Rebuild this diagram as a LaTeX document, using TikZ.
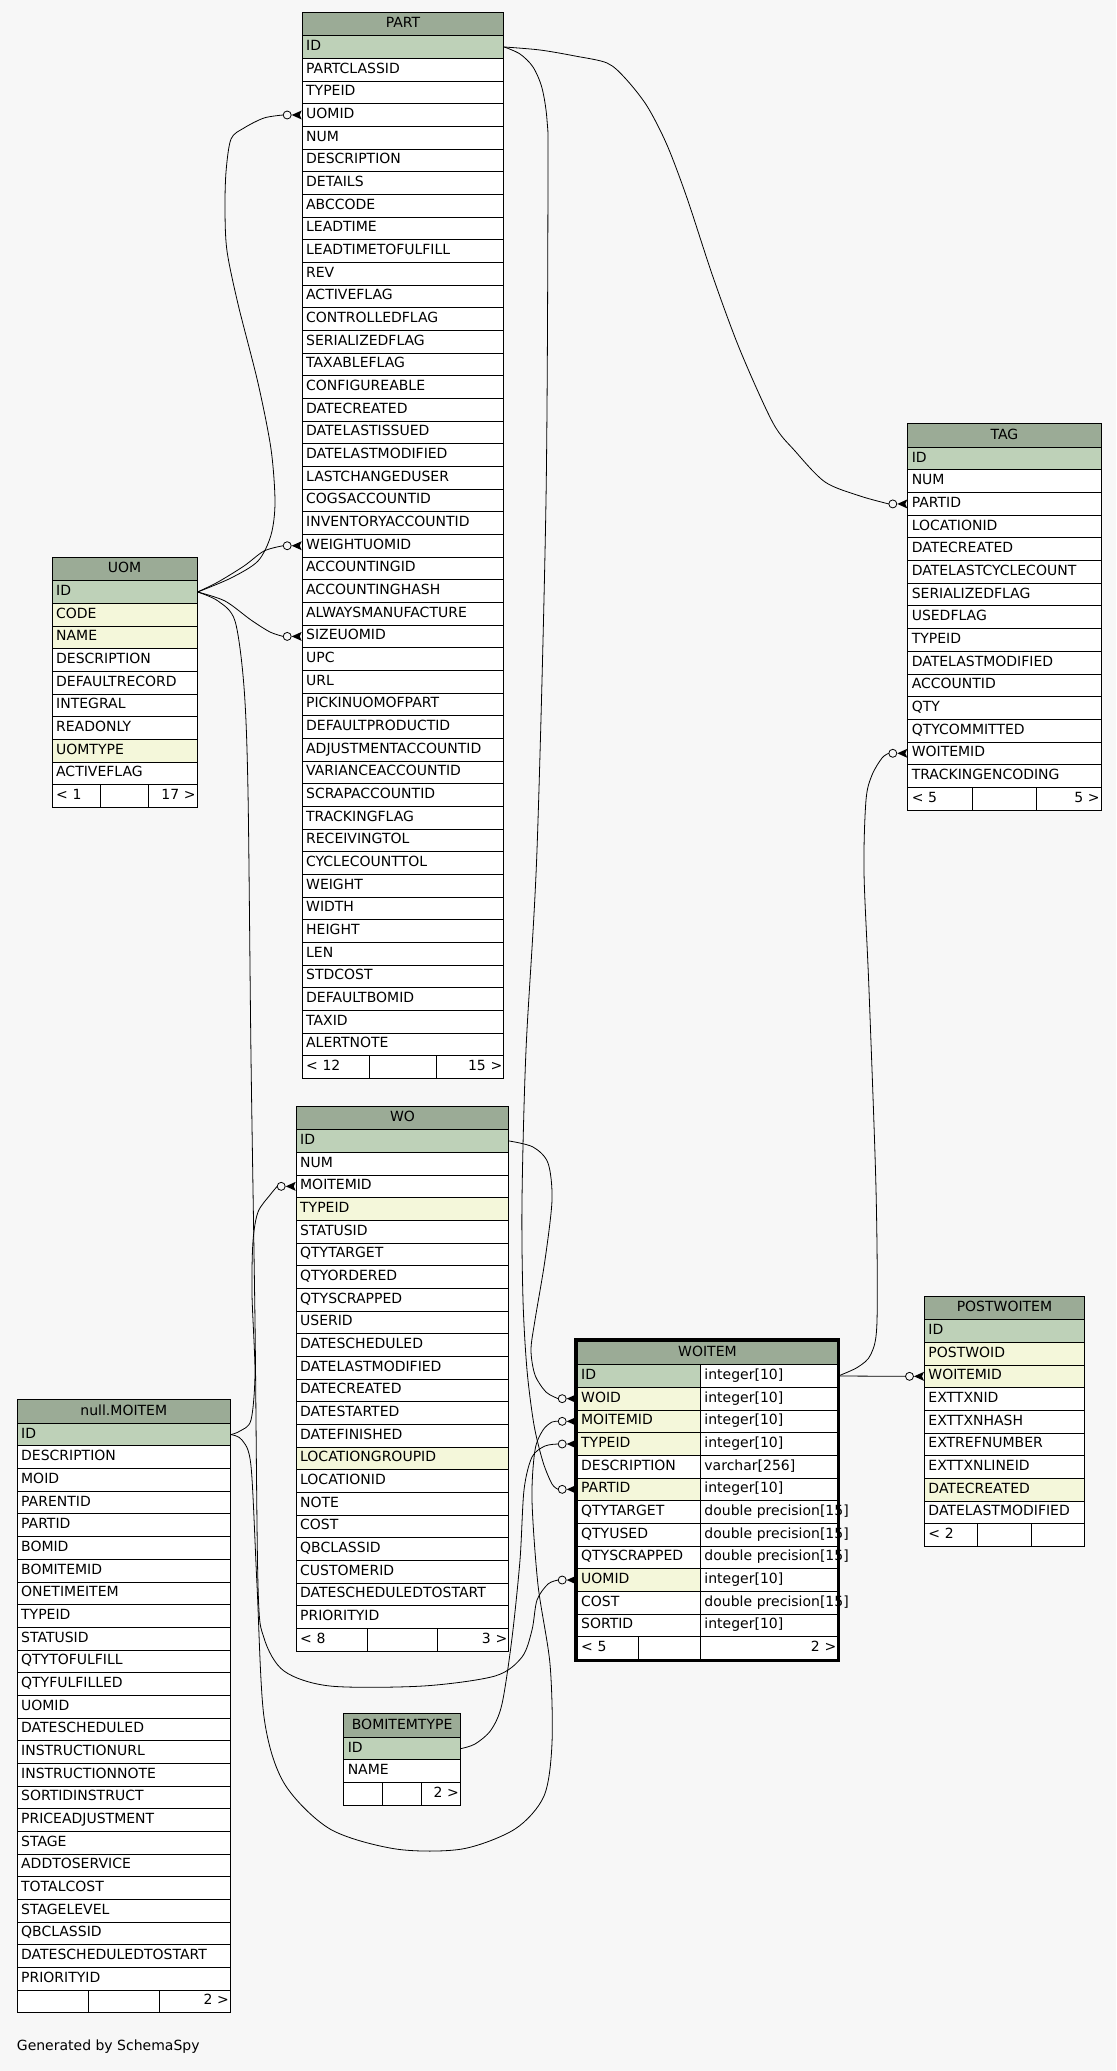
\documentclass[tikz,border=0pt]{standalone}
\usepackage{fontspec}
\setmainfont{DejaVu Sans}
\definecolor{hdrc}{HTML}{9BAB96}
\definecolor{cp}{HTML}{BED1B8}
\definecolor{cy}{HTML}{F4F7DA}
\definecolor{cw}{HTML}{FFFFFF}
\definecolor{bgc}{HTML}{F7F7F7}
\tikzset{
  tfont/.style={font=\fontsize{14}{16}\selectfont},
  cell/.style={tfont, draw=black, line width=0.9pt, anchor=north west, inner xsep=4pt, inner ysep=0pt,
    minimum height=22.67pt, text height=10pt, text depth=3pt, align=left},
  hcell/.style={cell, fill=hdrc, minimum height=23.5pt, align=center},
  rcell/.style={cell, align=right, inner xsep=1.5pt},
  edge/.style={draw=black, line width=0.8pt},
}
\newcommand\dbtable[6]{%
  \pgfmathsetmacro\tw{#4-8}
  \node[hcell, text width=\tw pt] (#1) at (#2,#3) {#5};
  \foreach \lab/\fc [count=\i] in {#6} {
    \pgfmathsetmacro\yy{#3+23.5+(\i-1)*22.67}
    \node[cell, fill=\fc, text width=\tw pt] (#1-\lab) at (#2,\yy) {\lab};
    \xdef\nrows{\i}
  }
}
\newcommand\dbfoot[6]{%
  \pgfmathsetmacro\yy{#3+23.5+\nrows*22.67}
  \pgfmathsetmacro\colw{#4/3}
  \pgfmathsetmacro\tw{#4/3-8}
  \pgfmathsetmacro\twr{#4/3-3}
  \node[cell, fill=cw, text width=\tw pt] (#1-f1) at (#2,\yy) {#5};
  \node[cell, fill=cw, text width=\tw pt] (#1-f2) at ({#2+\colw},\yy) {};
  \node[rcell, fill=cw, text width=\twr pt] (#1-f3) at ({#2+2*\colw},\yy) {#6};
}
\newcommand\crowend[1]{%
  \fill ([xshift=-10pt]#1.west) -- ([yshift=4.5pt]#1.west) -- ([xshift=-2pt]#1.west) -- ([yshift=-4.5pt]#1.west) -- cycle;
  \draw[line width=0.8pt, fill=bgc] ([xshift=-14.5pt]#1.west) circle (4pt);
}
\begin{document}
\begin{tikzpicture}[x=1pt,y=-1pt]
\fill[bgc] (0,0) rectangle (1116,2071);
\useasboundingbox (0,0) rectangle (1116,2071);

% ---------- tables ----------
\dbtable{part}{301.7}{11.7}{201.6}{PART}{ID/cp, PARTCLASSID/cw, TYPEID/cw, UOMID/cw, NUM/cw, DESCRIPTION/cw, DETAILS/cw, ABCCODE/cw, LEADTIME/cw, LEADTIMETOFULFILL/cw, REV/cw, ACTIVEFLAG/cw, CONTROLLEDFLAG/cw, SERIALIZEDFLAG/cw, TAXABLEFLAG/cw, CONFIGUREABLE/cw, DATECREATED/cw, DATELASTISSUED/cw, DATELASTMODIFIED/cw, LASTCHANGEDUSER/cw, COGSACCOUNTID/cw, INVENTORYACCOUNTID/cw, WEIGHTUOMID/cw, ACCOUNTINGID/cw, ACCOUNTINGHASH/cw, ALWAYSMANUFACTURE/cw, SIZEUOMID/cw, UPC/cw, URL/cw, PICKINUOMOFPART/cw, DEFAULTPRODUCTID/cw, ADJUSTMENTACCOUNTID/cw, VARIANCEACCOUNTID/cw, SCRAPACCOUNTID/cw, TRACKINGFLAG/cw, RECEIVINGTOL/cw, CYCLECOUNTTOL/cw, WEIGHT/cw, WIDTH/cw, HEIGHT/cw, LEN/cw, STDCOST/cw, DEFAULTBOMID/cw, TAXID/cw, ALERTNOTE/cw}
\dbfoot{part}{301.7}{11.7}{201.6}{< 12}{15 >}

\dbtable{uom}{51.7}{556.7}{145}{UOM}{ID/cp, CODE/cy, NAME/cy, DESCRIPTION/cw, DEFAULTRECORD/cw, INTEGRAL/cw, READONLY/cw, UOMTYPE/cy, ACTIVEFLAG/cw}
\dbfoot{uom}{51.7}{556.7}{145}{< 1}{17 >}

\dbtable{tag}{907.3}{423.3}{193.4}{TAG}{ID/cp, NUM/cw, PARTID/cw, LOCATIONID/cw, DATECREATED/cw, DATELASTCYCLECOUNT/cw, SERIALIZEDFLAG/cw, USEDFLAG/cw, TYPEID/cw, DATELASTMODIFIED/cw, ACCOUNTID/cw, QTY/cw, QTYCOMMITTED/cw, WOITEMID/cw, TRACKINGENCODING/cw}
\dbfoot{tag}{907.3}{423.3}{193.4}{< 5}{5 >}

\dbtable{wo}{295.7}{1105.7}{212.6}{WO}{ID/cp, NUM/cw, MOITEMID/cw, TYPEID/cy, STATUSID/cw, QTYTARGET/cw, QTYORDERED/cw, QTYSCRAPPED/cw, USERID/cw, DATESCHEDULED/cw, DATELASTMODIFIED/cw, DATECREATED/cw, DATESTARTED/cw, DATEFINISHED/cw, LOCATIONGROUPID/cy, LOCATIONID/cw, NOTE/cw, COST/cw, QBCLASSID/cw, CUSTOMERID/cw, DATESCHEDULEDTOSTART/cw, PRIORITYID/cw}
\dbfoot{wo}{295.7}{1105.7}{212.6}{< 8}{3 >}

\dbtable{postwoitem}{924}{1295.7}{160}{POSTWOITEM}{ID/cp, POSTWOID/cy, WOITEMID/cy, EXTTXNID/cw, EXTTXNHASH/cw, EXTREFNUMBER/cw, EXTTXNLINEID/cw, DATECREATED/cy, DATELASTMODIFIED/cw}
\dbfoot{postwoitem}{924}{1295.7}{160}{< 2}{}

\dbtable{moitem}{16.7}{1399.3}{213.3}{null.MOITEM}{ID/cp, DESCRIPTION/cw, MOID/cw, PARENTID/cw, PARTID/cw, BOMID/cw, BOMITEMID/cw, ONETIMEITEM/cw, TYPEID/cw, STATUSID/cw, QTYTOFULFILL/cw, QTYFULFILLED/cw, UOMID/cw, DATESCHEDULED/cw, INSTRUCTIONURL/cw, INSTRUCTIONNOTE/cw, SORTIDINSTRUCT/cw, PRICEADJUSTMENT/cw, STAGE/cw, ADDTOSERVICE/cw, TOTALCOST/cw, STAGELEVEL/cw, QBCLASSID/cw, DATESCHEDULEDTOSTART/cw, PRIORITYID/cw}
\dbfoot{moitem}{16.7}{1399.3}{213.3}{}{2 >}

\dbtable{bomitemtype}{343.3}{1713.3}{116.7}{BOMITEMTYPE}{ID/cp, NAME/cw}
\dbfoot{bomitemtype}{343.3}{1713.3}{116.7}{}{2 >}

% WOITEM (two columns, focus table)
\node[hcell, text width=252.6pt] (woitem) at (576.7,1340.7) {WOITEM};
\foreach \lab/\fc/\typ [count=\i] in {ID/cp/integer[10], WOID/cy/integer[10], MOITEMID/cy/integer[10], TYPEID/cy/integer[10], DESCRIPTION/cw/varchar[256], PARTID/cy/integer[10], QTYTARGET/cw/double precision[15], QTYUSED/cw/double precision[15], QTYSCRAPPED/cw/double precision[15], UOMID/cy/integer[10], COST/cw/double precision[15], SORTID/cw/integer[10]} {
  \pgfmathsetmacro\yy{1364.2+(\i-1)*22.67}
  \node[cell, fill=\fc, text width=115.3pt] (woitem-\lab) at (576.7,\yy) {\lab};
  \node[cell, fill=cw, text width=129.3pt] (woitem-\lab-t) at (700,\yy) {\mbox{\typ}};
}
\node[cell, fill=cw, text width=53.65pt] (woitem-f1) at (576.7,1636.2) {< 5};
\node[cell, fill=cw, text width=53.65pt] (woitem-f2) at (638.35,1636.2) {};
\node[rcell, fill=cw, text width=134.3pt] (woitem-f3) at (700,1636.2) {2 >};
\draw[line width=3pt] (575,1339.2) rectangle (838.8,1660.8);

\node[tfont, anchor=west, inner sep=0pt] (gen) at (16.7,2046.7) {Generated by SchemaSpy};

% ---------- connectors ----------
\draw[edge] plot[smooth, tension=0.5] coordinates {(part-ID.east) (540,50) (575,56) (607,63) (625,78) (647,106) (667,145) (687,198) (713,277) (740,350) (773,423) (795,451) (825,482) (860,496) ([xshift=-18.5pt]tag-PARTID.west)};
\draw[edge] plot[smooth, tension=0.5] coordinates {(part-ID.east) (520,54) (533,67) (542,88) (547,120) (548,172) (546,500) (537,850) (526,1050) (522,1200) (523,1300) (527,1370) (534,1425) (543,1462) (552,1484) ([xshift=-18.5pt]woitem-PARTID.west)};
\draw[edge] plot[smooth, tension=0.5] coordinates {(uom-ID.east) (231,578) (258,561) (271,535) (275,502) (271,449) (258,383) (238,304) (227,251) (225,211) (226,172) (231,139) (244,128) (264,118) ([xshift=-18.5pt]part-UOMID.west)};
\draw[edge] plot[smooth, tension=0.5] coordinates {(uom-ID.east) (218,582) (244,566) (264,551) ([xshift=-18.5pt]part-WEIGHTUOMID.west)};
\draw[edge] plot[smooth, tension=0.5] coordinates {(uom-ID.east) (225,601) (251,620) (270,632) ([xshift=-18.5pt]part-SIZEUOMID.west)};
\draw[edge] plot[smooth, tension=0.5] coordinates {(uom-ID.east) (218,601) (235,621) (244,687) (248,792) (251,1057) (255,1321) (258,1585) (264,1638) (284,1671) (330,1686) (423,1686) (495,1676) (522,1657) (532,1630) (537,1600) (548,1584) ([xshift=-18.5pt]woitem-UOMID.west)};
\draw[edge] plot[smooth, tension=0.5] coordinates {(moitem-ID.east) (240,1431) (251,1420) (255,1373) (252,1294) (253,1241) (258,1212) (270,1195) ([xshift=-18.5pt]wo-MOITEMID.west)};
\draw[edge] plot[smooth, tension=0.5] coordinates {(moitem-ID.east) (242,1440) (251,1466) (257,1585) (264,1717) (284,1783) (330,1829) (396,1849) (462,1849) (515,1829) (544,1796) (552,1743) (550,1664) (538,1585) (532,1500) (535,1450) (543,1430) (552,1422) ([xshift=-18.5pt]woitem-MOITEMID.west)};
\draw[edge] plot[smooth, tension=0.5] coordinates {(bomitemtype-ID.east) (475,1744) (491,1730) (502,1704) (512,1638) (520,1560) (524,1490) (532,1457) (545,1446) ([xshift=-18.5pt]woitem-TYPEID.west)};
\draw[edge] plot[smooth, tension=0.5] coordinates {(wo-ID.east) (533,1147) (548,1163) (552,1200) (545,1260) (535,1320) (531,1350) (535,1375) (546,1392) ([xshift=-18.5pt]woitem-WOID.west)};
\draw[edge] (woitem-ID-t.east) -- ([xshift=-18.5pt]postwoitem-WOITEMID.west);
\draw[edge] plot[smooth, tension=0.5] coordinates {(woitem-ID-t.east) (858,1367) (871,1354) (877,1321) (876,1189) (869,990) (864,872) (866,800) (872,775) (882,758) ([xshift=-18.5pt]tag-WOITEMID.west)};

\crowend{tag-PARTID}
\crowend{tag-WOITEMID}
\crowend{part-UOMID}
\crowend{part-WEIGHTUOMID}
\crowend{part-SIZEUOMID}
\crowend{wo-MOITEMID}
\crowend{woitem-WOID}
\crowend{woitem-MOITEMID}
\crowend{woitem-TYPEID}
\crowend{woitem-PARTID}
\crowend{woitem-UOMID}
\crowend{postwoitem-WOITEMID}
\end{tikzpicture}
\end{document}
